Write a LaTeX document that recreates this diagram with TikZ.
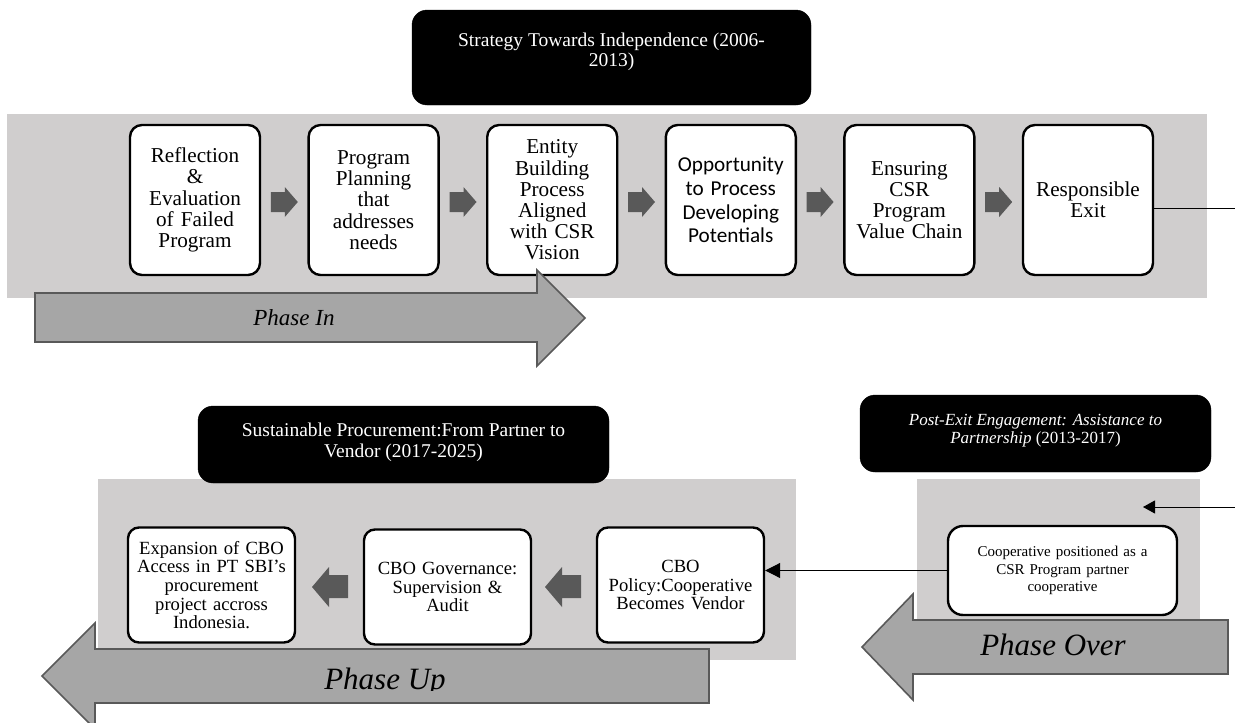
\documentclass[tikz,border=0pt]{standalone}
\usepackage{fontspec}
\setmainfont{Liberation Serif}
\newfontfamily\calib{Carlito}
\usetikzlibrary{arrows.meta}
\definecolor{bandgray}{RGB}{208,206,206}
\definecolor{arrowfill}{RGB}{166,166,166}
\definecolor{arrowdark}{RGB}{89,89,89}
\tikzset{
  band/.style={fill=bandgray, draw=none},
  stepbox/.style={draw=black, line width=2.4pt, fill=white, rounded corners=12pt,
    minimum width=130pt, minimum height=150pt, text width=126pt, align=center,
    inner sep=0pt, font=\fontsize{21.2}{21.2}\selectfont},
  lowbox/.style={draw=black, line width=2.4pt, fill=white, rounded corners=11pt,
    minimum width=167pt, minimum height=115pt, text width=160pt, align=center,
    inner sep=0pt, font=\fontsize{18.6}{18.7}\selectfont},
  coopbox/.style={draw=black, line width=2.4pt, fill=white, rounded corners=15pt,
    minimum width=229pt, minimum height=89pt, text width=220pt, align=center,
    inner sep=0pt, font=\fontsize{15}{17.5}\selectfont},
  headbox/.style={fill=black, draw=black, rounded corners=15pt, inner sep=0pt},
  headtext/.style={text=white, align=center, inner sep=0pt},
  blockarrow/.style={fill=arrowfill, draw=arrowdark, line width=1.6pt},
  smallarrow/.style={fill=arrowdark, draw=none},
  phasetext/.style={inner sep=0pt, font=\itshape},
  conn/.style={draw=black, line width=1pt},
}
\begin{document}
\begin{tikzpicture}[x=1pt,y=-1pt]
\clip (0,0) rectangle (1235,723);
\fill[white] (0,0) rectangle (1235,723);

% ---------- top section ----------
\fill[band] (7,114) rectangle (1207,298);
\node[headbox, minimum width=399pt, minimum height=95pt] (strat) at (611.5,57.5) {};
\node[headtext, font=\fontsize{19.5}{20}\selectfont] (strattxt) at (611.5,52)
  {Strategy Towards Independence (2006-\\2013)};

\node[stepbox] (s1) at (195,200) {Reflection\\\&\\Evaluation\\of Failed\\Program};
\node[stepbox] (s2) at (373.6,200) {Program\\Planning\\that\\addresses\\needs};
\node[stepbox] (s3) at (552.2,200) {Entity\\Building\\Process\\Aligned\\with CSR\\Vision};
\node[stepbox, font=\calib\fontsize{21.2}{23.7}\selectfont] (s4) at (730.8,200)
  {Opportunity\\to Process\\Developing\\Potentials};
\node[stepbox] (s5) at (909.4,200) {Ensuring\\CSR\\Program\\Value Chain};
\node[stepbox] (s6) at (1088,200) {Responsible\\Exit};

\foreach \cx in {284.3,463,641.5,820.1,998.7}{
  \fill[smallarrow] (\cx-13.5,192) -- (\cx+0.5,192) -- (\cx+0.5,187) -- (\cx+13.5,202)
    -- (\cx+0.5,217) -- (\cx+0.5,212) -- (\cx-13.5,212) -- cycle;
}

% Phase In arrow
\filldraw[blockarrow] (35,293) -- (537,293) -- (537,270) -- (585,318) -- (537,366)
  -- (537,342) -- (35,342) -- cycle;
\node[phasetext, font=\itshape\fontsize{23}{24}\selectfont] (phin) at (294,318) {Phase In};

% connector leaving Responsible Exit
\coordinate (exitR) at (1235,208);
\draw[conn] (exitR -| s6.east) -- (exitR);

% ---------- bottom right section ----------
\fill[band] (917,479) rectangle (1200,625);
\node[headbox, minimum width=351pt, minimum height=77pt] (post) at (1035.5,433.5) {};
\node[headtext, font=\fontsize{17}{18}\selectfont] (posttxt) at (1035.5,431)
  {\textit{Post-Exit Engagement: Assistance to}\\\textit{Partnership} (2013-2017)};
\node[coopbox] (coop) at (1062.5,570.5)
  {Cooperative positioned as a\\CSR Program partner\\cooperative};

\coordinate (inR) at (1235,507);
\coordinate (inL) at (1143,507);
\draw[conn, -{Triangle[length=12pt,width=13pt]}] (inR) -- (inL);

% Phase Over arrow
\filldraw[blockarrow] (1228,620) -- (913,620) -- (913,594) -- (862,647) -- (913,700)
  -- (913,674) -- (1228,674) -- cycle;
\node[phasetext, font=\itshape\fontsize{31}{32}\selectfont] (phover) at (1053,645) {Phase Over};

% ---------- bottom left section ----------
\fill[band] (98,479) rectangle (796,660);
\node[headbox, minimum width=411pt, minimum height=77pt] (sust) at (403.5,444.5) {};
\node[headtext, font=\fontsize{19.5}{21}\selectfont] (susttxt) at (403.5,442.5)
  {Sustainable Procurement:From Partner to\\Vendor (2017-2025)};

\node[lowbox] (b1) at (211.5,585) {Expansion of CBO\\Access in PT SBI's\\procurement\\project accross\\Indonesia.};
\node[lowbox] (b2) at (447.5,587) {CBO Governance:\\Supervision \&\\Audit};
\node[lowbox] (b3) at (680.5,585) {CBO\\Policy:Cooperative\\Becomes Vendor};

\foreach \cx in {330,563}{
  \fill[smallarrow] (\cx+18,575) -- (\cx-1,575) -- (\cx-1,567) -- (\cx-18,587)
    -- (\cx-1,607) -- (\cx-1,598) -- (\cx+18,598) -- cycle;
}

\draw[conn, -{Triangle[length=15pt,width=15pt]}] (coop.west) -- (coop.west -| b3.east);

% Phase Up arrow
\filldraw[blockarrow] (709,649) -- (95,649) -- (95,623) -- (42,676) -- (95,729)
  -- (95,703) -- (709,703) -- cycle;
\begin{scope}
  \clip (95,640) rectangle (709,690);
  \node[phasetext, font=\itshape\fontsize{31}{32}\selectfont] (phup) at (385,682) {Phase Up};
\end{scope}
\end{tikzpicture}
\end{document}
